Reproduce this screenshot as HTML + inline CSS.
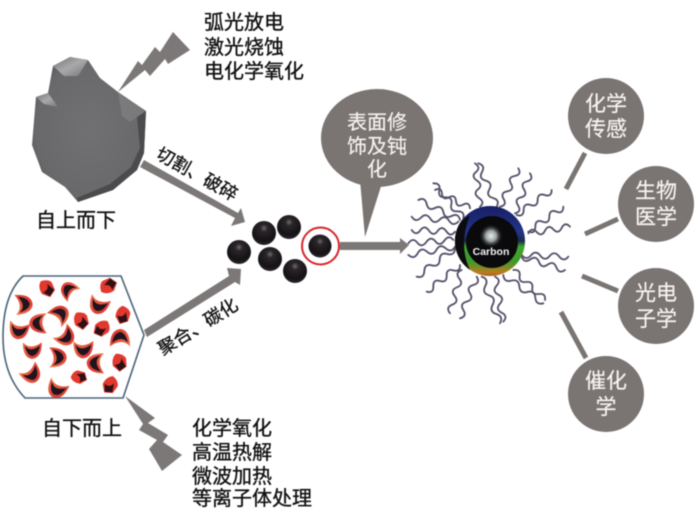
<!DOCTYPE html>
<html><head><meta charset="utf-8"><style>
html,body{margin:0;padding:0;background:#fff}
svg{display:block;filter:blur(.45px)}
text{font-family:"Liberation Sans","Noto Sans CJK SC",sans-serif}
.k{stroke:#111;stroke-width:.35}
.w{stroke:#f4f2f0;stroke-width:.2}
</style></head><body>
<svg width="700" height="515" viewBox="0 0 700 515" xmlns="http://www.w3.org/2000/svg">
<defs>
<radialGradient id="rock" cx="50%" cy="50%" r="62%"><stop offset="0" stop-color="#717173"/><stop offset=".75" stop-color="#69696b"/><stop offset="1" stop-color="#4a4a4c"/></radialGradient>
<linearGradient id="hl" x1="0" y1="0" x2="1" y2="1"><stop offset="0" stop-color="#757577"/><stop offset=".5" stop-color="#a9a9ab"/><stop offset="1" stop-color="#77777a"/></linearGradient>
<radialGradient id="ball" cx="50%" cy="30%" r="70%"><stop offset="0" stop-color="#6f6a6e"/><stop offset=".22" stop-color="#2a2529"/><stop offset=".75" stop-color="#151216"/><stop offset="1" stop-color="#2a262a"/></radialGradient>
<linearGradient id="core" x1="0" y1="0" x2="0" y2="1"><stop offset="0" stop-color="#181f66"/><stop offset=".38" stop-color="#223488"/><stop offset=".5" stop-color="#1a2a4a"/><stop offset=".58" stop-color="#3fa52e"/><stop offset=".8" stop-color="#3f9a2a"/><stop offset=".95" stop-color="#c07a20"/><stop offset="1" stop-color="#a06020"/></linearGradient>
<radialGradient id="glow"><stop offset="0" stop-color="#e8ecec"/><stop offset=".45" stop-color="#9aa0a0"/><stop offset="1" stop-color="#0a0a0a" stop-opacity="0"/></radialGradient>
<linearGradient id="red" x1="0" y1="0" x2="1" y2="1"><stop offset="0" stop-color="#f0764e"/><stop offset="1" stop-color="#d62a2a"/></linearGradient>
<g id="cr"><path d="M-30,-22Q-6,4 30,-22Q30,28 -2,30Q-30,26 -30,-22Z" fill="url(#red)"/><path d="M-24,-12Q-6,12 24,-12Q18,20 -2,21Q-18,17 -24,-12Z" fill="#21141f"/></g>
<g id="pt"><path d="M-24,-14Q-6,-28 8,-22L25,-4L19,21L-7,21Q-27,6 -24,-14Z" fill="#e2382e"/><path d="M-3,-13L23,-3L17,19L-6,15Q9,2 -3,-13Z" fill="#2a1216"/></g>
</defs>

<!-- rock -->
<polygon points="53,66 70,57 88,60 100,78 118,92 146,111 144,153 137,170 113,190 78,202 65,187 42,172 32,145 36,97 48,93" fill="url(#rock)"/>
<polygon points="53,66 70,57 88,60 78,76 64,76" fill="url(#hl)"/>
<polygon points="36,97 48,93 58,107 44,104" fill="url(#hl)"/>
<polygon points="146,111 130,122 122,116 118,92" fill="#858587" opacity=".6"/>
<polygon points="146,111 144,153 137,170 113,190 78,202 77,198 110,184 131,167 140,148 137,117" fill="#4b4b4d"/>

<!-- top bolt -->
<polygon points="118,92 138,61 142,65 155,47 160,52 173,32 190,50 168,64 165,59 150,76 145,70" fill="#7c7878"/>
<text font-size="20" fill="#111" class="k"><tspan x="204" y="29">弧光放电</tspan><tspan x="204" y="54">激光烧蚀</tspan><tspan x="204" y="78">电化学氧化</tspan></text>
<text x="36" y="227" font-size="20" fill="#111" class="k">自上而下</text>

<!-- arrow 1 -->
<polygon points="144,160 238,213 241,208 245,222 231,226 235,218 140,167" fill="#7c7878"/>
<text transform="translate(192,183) rotate(29)" font-size="18" fill="#111" class="k" text-anchor="middle" y="-4">切割、破碎</text>

<!-- container -->
<path d="M23,276 H121 L144,335 L123,398 H25 Q3,375 3,337 Q3,295 23,276Z" fill="#fff" stroke="#4a6478" stroke-width="1.6"/>
<g transform="translate(0,270) scale(.3333)">
<use href="#pt" transform="translate(140,55) rotate(20)"/>
<use href="#pt" transform="translate(325,48) rotate(-70)"/>
<use href="#pt" transform="translate(368,135) rotate(60)"/>
<use href="#pt" transform="translate(243,152) rotate(30)"/>
<use href="#pt" transform="translate(305,175) rotate(100)"/>
<use href="#pt" transform="translate(358,277) rotate(40)"/>
<use href="#pt" transform="translate(237,322) rotate(-30) scale(.9)"/>
<use href="#pt" transform="translate(330,345) rotate(80)"/>
<use href="#cr" transform="translate(208,62) rotate(135) scale(.9)"/>
<use href="#cr" transform="translate(68,103) rotate(-95)"/>
<use href="#cr" transform="translate(297,103) rotate(20)"/>
<use href="#cr" transform="translate(178,135) rotate(-135)"/>
<use href="#cr" transform="translate(118,160) rotate(90)"/>
<use href="#cr" transform="translate(57,178) rotate(10)"/>
<use href="#cr" transform="translate(195,198) rotate(-45)"/>
<use href="#cr" transform="translate(360,207) rotate(180)"/>
<use href="#cr" transform="translate(97,238) rotate(0) scale(.95)"/>
<use href="#cr" transform="translate(250,235)"/>
<use href="#cr" transform="translate(170,262) rotate(-90)"/>
<use href="#cr" transform="translate(290,280) rotate(90)"/>
<use href="#cr" transform="translate(93,310) rotate(-35)"/>
<use href="#cr" transform="translate(172,355) rotate(25)"/>
</g>
<text x="42" y="435" font-size="20" fill="#111" class="k">自下而上</text>

<!-- arrow 2 -->
<polygon points="144,330 229,276 227,268 241,269 240,285 235,282 147,337" fill="#7c7878"/>
<text transform="translate(198,327) rotate(-32)" font-size="18" fill="#111" class="k" text-anchor="middle" y="6">聚合、碳化</text>

<!-- bottom bolt -->
<polygon points="125,396 155,418 148,423 168,435 163,442 182,455 162,471 149,449 157,440 139,430 143,424" fill="#7c7878"/>
<text font-size="20" fill="#111" class="k"><tspan x="192" y="435">化学氧化</tspan><tspan x="192" y="459">高温热解</tspan><tspan x="192" y="483">微波加热</tspan><tspan x="192" y="505">等离子体处理</tspan></text>

<!-- balls -->
<circle cx="264" cy="233" r="12" fill="url(#ball)"/>
<circle cx="289" cy="227" r="12" fill="url(#ball)"/>
<circle cx="239" cy="252" r="12" fill="url(#ball)"/>
<circle cx="270" cy="259" r="12" fill="url(#ball)"/>
<circle cx="295" cy="271" r="12" fill="url(#ball)"/>
<circle cx="320" cy="246" r="11.5" fill="url(#ball)"/>
<circle cx="320.500" cy="246" r="18.500" fill="none" stroke="#d8262a" stroke-width="2"/>

<!-- arrow 3 -->
<polygon points="340,242 400,242 400,238 409,245 400,254 400,250 340,250" fill="#7c7878"/>

<!-- bubble -->
<ellipse cx="377" cy="138" rx="56" ry="49" fill="#7a7472"/>
<polygon points="360,180 365,237 383,180" fill="#7a7472"/>
<g font-size="20" fill="#f4f2f0" class="w" text-anchor="middle"><text x="377" y="129">表面修</text><text x="377" y="153">饰及钝</text><text x="377" y="176">化</text></g>

<!-- ligands -->
<g transform="translate(400,150) scale(.3333)" fill="none" stroke="#55516a" stroke-width="5.500" stroke-linecap="round">
<path d="M240,170q16,-13 -3,-26t-3,-26t-3,-26t-3,-26t-3,-26"/>
<path d="M290,170q11,-20 -11,-26t-11,-26t-11,-26t-11,-26t-11,-26"/>
<path d="M300,170q22,-4 11,-23t11,-23t11,-23t11,-23t11,-23"/>
<path d="M345,190q21,-5 9,-24t9,-24t9,-24t9,-24t9,-24"/>
<path d="M350,195q21,7 21,-15t21,-15t21,-15t21,-15t21,-15"/>
<path d="M385,245q21,8 21,-15t21,-15t21,-15t21,-15t21,-15"/>
<path d="M385,250q10,-20 25,-4t25,-4t25,-4t25,-4t25,-4"/>
<path d="M365,315q14,18 28,1t28,1t28,1t28,1t28,1"/>
<path d="M365,320q8,21 26,8t26,8t26,8t26,8t26,8"/>
<path d="M340,360q22,-3 19,18t19,18t19,18t19,18t19,18"/>
<path d="M310,375q2,23 24,17t24,17t24,17t24,17t24,17"/>
<path d="M285,380q20,10 5,27t5,27t5,27t5,27t5,27"/>
<path d="M245,380q22,7 11,28t11,28t11,28t11,28t11,28"/>
<path d="M230,380q12,19 -10,25t-10,25t-10,25t-10,25t-10,25"/>
<path d="M185,360q-21,8 -7,26t-7,26t-7,26t-7,26t-7,26"/>
<path d="M180,345q1,22 -20,16t-20,16t-20,16t-20,16t-20,16"/>
<path d="M165,295q-1,23 -23,17t-23,17t-23,17t-23,17t-23,17"/>
<path d="M165,290q-11,20 -28,5t-28,5t-28,5t-28,5t-28,5"/>
<path d="M160,270q-13,-17 -27,2t-27,2t-27,2t-27,2t-27,2"/>
<path d="M165,245q-13,18 -26,-1t-26,-1t-26,-1t-26,-1t-26,-1"/>
<path d="M175,215q-16,16 -28,-3t-28,-3t-28,-3t-28,-3t-28,-3"/>
<path d="M180,210q-5,-22 -25,-12t-25,-12t-25,-12t-25,-12t-25,-12"/>
<path d="M210,175q-2,-21 -21,-11t-21,-11t-21,-11t-21,-11t-21,-11"/>
<path d="M190,205q5,-22 -18,-21t-18,-21t-18,-21t-18,-21t-18,-21"/>
</g>

<!-- carbon -->
<circle cx="490" cy="241" r="35" fill="url(#core)"/>
<path d="M462,220A35,35 0 0 0 470,270Q458,245 470,215Z" fill="#0c0c0e"/>
<circle cx="492" cy="242" r="26" fill="#0a0a0c"/>
<circle cx="491" cy="236" r="12" fill="url(#glow)"/>
<text x="491" y="255" font-size="10.500" font-weight="bold" fill="#f0f0f0" text-anchor="middle">Carbon</text>

<!-- connectors -->
<g stroke="#7a7472" stroke-width="5" fill="none">
<line x1="585" y1="153" x2="566" y2="189"/>
<line x1="618" y1="219" x2="585" y2="234"/>
<line x1="618" y1="291" x2="582" y2="276"/>
<line x1="586" y1="358" x2="561" y2="312"/>
</g>

<!-- circles -->
<g fill="#7a7472">
<circle cx="606" cy="116" r="38"/>
<circle cx="656" cy="204" r="38"/>
<circle cx="656" cy="306" r="38"/>
<circle cx="606" cy="394" r="38"/>
</g>
<g font-size="21" fill="#f6f4f2" class="w" text-anchor="middle">
<text x="606" y="111">化学</text><text x="606" y="136">传感</text>
<text x="656" y="198">生物</text><text x="656" y="224">医学</text>
<text x="656" y="300">光电</text><text x="656" y="326">子学</text>
<text x="606" y="388">催化</text><text x="606" y="414">学</text>
</g>
</svg>
</body></html>
